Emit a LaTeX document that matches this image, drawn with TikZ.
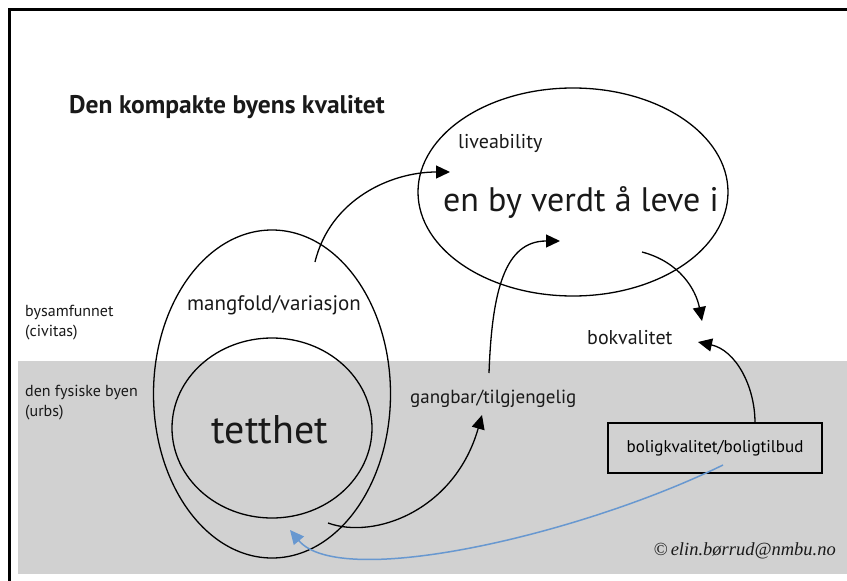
\documentclass[tikz,border=0pt]{standalone}
\usepackage{fontspec}
\setmainfont{PT Sans}
\newfontfamily\copyfont{Liberation Serif}
\usetikzlibrary{shapes.geometric,arrows.meta}
\definecolor{bandgray}{RGB}{209,209,209}
\definecolor{arrowblue}{RGB}{104,152,208}
\begin{document}
\begin{tikzpicture}[x=1pt,y=-1pt,
  txt/.style={inner sep=0pt,text=black!90},
  conn/.style={line width=1.3pt,-{Triangle[length=14pt,width=13pt]}},
  ring/.style={draw,ellipse,line width=1.3pt,inner sep=0pt}]
\useasboundingbox (0,0) rectangle (847,581);
\fill[white] (0,0) rectangle (847,581);
% gray band
\fill[bandgray] (18,361) rectangle (847,574);
% frame
\draw[line width=3pt] (9.5,581) -- (9.5,9.5) -- (847,9.5);
% title
\node[txt,anchor=west,font=\fontsize{25.5}{28}\selectfont\bfseries] (title) at (69,107) {Den kompakte byens kvalitet};
% left labels
\node[txt,anchor=west,align=left,font=\fontsize{16}{20}\selectfont] (civ) at (25,323) {bysamfunnet\\(civitas)};
\node[txt,anchor=west,align=left,font=\fontsize{16}{20}\selectfont] (urbs) at (25,403) {den fysiske byen\\(urbs)};
% egg and circle
\node[ring,minimum width=237pt,minimum height=328pt] (egg) at (272,394) {};
\node[ring,minimum width=200pt,minimum height=180pt] (tett) at (272,428) {};
\node[txt,font=\fontsize{40}{44}\selectfont] (tettxt) at (270,430) {tetthet};
\node[txt,font=\fontsize{21}{24}\selectfont] (mang) at (274,305) {mangfold/variasjon};
% liveability ellipse
\node[ring,minimum width=310pt,minimum height=208pt] (live) at (573,192) {};
\node[txt,anchor=west,font=\fontsize{20}{23}\selectfont] (liv) at (458,143) {liveability};
\node[txt,anchor=west,font=\fontsize{34}{37}\selectfont] (enby) at (443,203) {en by verdt å leve i};
% other labels
\node[txt,anchor=west,font=\fontsize{19}{22}\selectfont] (gang) at (410,399) {gangbar/tilgjengelig};
\node[txt,anchor=west,font=\fontsize{20}{23}\selectfont] (bok) at (587,338) {bokvalitet};
\node[draw,line width=1.3pt,minimum width=214pt,minimum height=50pt,inner sep=0pt,font=\fontsize{17}{20}\selectfont] (bolig) at (715,448) {boligkvalitet/boligtilbud};
\node[txt,anchor=east,font=\copyfont\itshape\fontsize{18.5}{21}\selectfont] (copy) at (836,551) {©\,elin.børrud@nmbu.no};
% connector end points
\coordinate (a1) at (315,262);
\coordinate (a2) at (450,172);
\coordinate (b1) at (489,373);
\coordinate (b2) at (560,241);
\coordinate (c1) at (642,252);
\coordinate (c2) at (702,321);
\coordinate (d1) at (755,423);
\coordinate (d2) at (698,342);
\coordinate (e1) at (328,523);
\coordinate (e2) at (482,415);
\coordinate (f1) at (723,465);
\coordinate (f2) at (290,530);
% connectors
\draw[conn] (a1) .. controls (330,200) and (390,172) .. (a2);
\draw[conn] (b1) .. controls (492,290) and (505,241) .. (b2);
\draw[conn] (c1) .. controls (680,262) and (696,290) .. (c2);
\draw[conn] (d1) .. controls (755,385) and (735,350) .. (d2);
\draw[conn] (e1) .. controls (375,540) and (455,510) .. (e2);
\draw[conn,arrowblue,line width=1.5pt] (f1) .. controls (580,535) and (340,590) .. (f2);
\end{tikzpicture}
\end{document}
